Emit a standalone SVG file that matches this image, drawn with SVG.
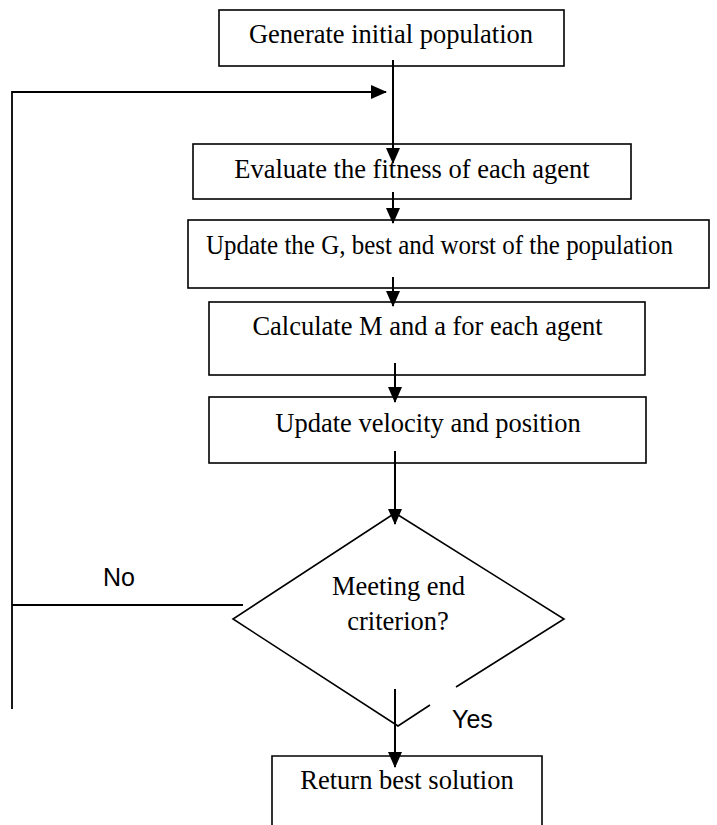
<svg xmlns="http://www.w3.org/2000/svg" width="717" height="825" viewBox="0 0 717 825">
<defs>
<marker id="ah" markerUnits="userSpaceOnUse" markerWidth="16" markerHeight="14" refX="15" refY="7" orient="auto">
<path d="M0,0 L16,7 L0,14 Z" fill="#000"/>
</marker>
<style>
.box{fill:#fff;stroke:#000;stroke-width:1.6}
.t{font-family:"Liberation Serif","Times New Roman",serif;font-size:26.5px;fill:#000;text-anchor:middle}
.lbl{font-family:"Liberation Sans",Arial,sans-serif;font-size:25px;fill:#000}
.c{fill:none;stroke:#000;stroke-width:2}
.fb{fill:none;stroke:#000;stroke-width:1.8}
</style>
</defs>
<rect width="717" height="825" fill="#fff"/>
<g id="n1"><rect class="box" x="219" y="10" width="345" height="56"/><text class="t" x="391" y="43">Generate initial population</text></g>
<g id="n2"><rect class="box" x="193" y="144" width="438" height="55"/><text class="t" x="412" y="178">Evaluate the fitness of each agent</text></g>
<g id="n3"><rect class="box" x="188" y="220" width="521" height="68"/><text class="t" x="206" y="254" style="text-anchor:start" textLength="467" lengthAdjust="spacingAndGlyphs">Update the G, best and worst of the population</text></g>
<g id="n4"><rect class="box" x="209" y="302" width="436" height="73"/><text class="t" x="427.5" y="335">Calculate M and a for each agent</text></g>
<g id="n5"><rect class="box" x="209" y="397" width="437" height="66"/><text class="t" x="428" y="432">Update velocity and position</text></g>
<g id="n6"><path class="box" style="fill:none" d="M430,705 L398,726 L233,619 L395,513 L564,619 L456,687"/><text class="t" x="398.5" y="595">Meeting end</text><text class="t" x="398" y="630">criterion?</text></g>
<g id="n7"><path class="box" d="M272,826 L272,756 L542,756 L542,826"/><text class="t" x="407" y="789">Return best solution</text></g>
<g id="connectors">
<line class="c" x1="393" y1="60" x2="393" y2="163" marker-end="url(#ah)"/>
<line class="c" x1="393" y1="192" x2="393" y2="223" marker-end="url(#ah)"/>
<line class="c" x1="393" y1="277" x2="393" y2="306" marker-end="url(#ah)"/>
<line class="c" x1="395" y1="363" x2="395" y2="402" marker-end="url(#ah)"/>
<line class="c" x1="395" y1="451" x2="395" y2="524" marker-end="url(#ah)"/>
<line class="c" x1="395" y1="689" x2="395" y2="767" marker-end="url(#ah)"/>
<polyline class="fb" points="12,709 12,92 386,92" marker-end="url(#ah)"/>
<line class="fb" x1="12" y1="605" x2="243" y2="605"/>
<text class="lbl" x="103" y="586">No</text>
<text class="lbl" x="452" y="728">Yes</text>
</g>
</svg>
